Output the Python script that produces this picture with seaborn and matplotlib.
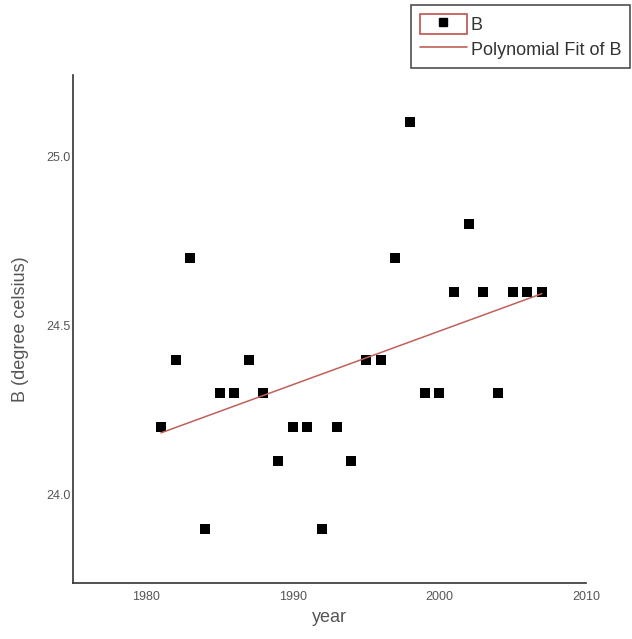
import matplotlib
matplotlib.use("Agg")
import matplotlib.pyplot as plt
import seaborn as sns
import pandas as pd
from matplotlib.patches import Rectangle
from matplotlib.lines import Line2D

years = [1981, 1982, 1983, 1984, 1985, 1986, 1987, 1988, 1989, 1990,
         1991, 1992, 1993, 1994, 1995, 1996, 1997, 1998, 1999, 2000,
         2001, 2002, 2003, 2004, 2005, 2006, 2007]
temps = [24.2, 24.4, 24.7, 23.9, 24.3, 24.3, 24.4, 24.3, 24.1, 24.2,
         24.2, 23.9, 24.2, 24.1, 24.4, 24.4, 24.7, 25.1, 24.3, 24.3,
         24.6, 24.8, 24.6, 24.3, 24.6, 24.6, 24.6]
x_ticks = [1980, 1990, 2000, 2010]
y_ticks = [24.0, 24.5, 25.0]

df = pd.DataFrame({"year": years, "B": temps})

sns.set_style("white")
plt.rcParams["font.family"] = ["Liberation Sans", "DejaVu Sans"]

fit_color = "#c0605a"
text_color = "#555555"

fig = plt.figure(figsize=(6.32, 6.39), dpi=100)
ax = fig.add_axes([0.1155, 0.0876, 0.8115, 0.795])

sns.regplot(data=df, x="year", y="B", ci=None, ax=ax, marker="s",
            scatter_kws={"s": 60, "color": "black", "linewidths": 0, "alpha": 1},
            line_kws={"color": fit_color, "linewidth": 1.1})

ax.set_xlim(1975, 2010)
ax.set_ylim(23.74, 25.24)
ax.set_xticks(x_ticks)
ax.set_yticks(y_ticks)
ax.set_xticklabels([str(t) for t in x_ticks])
ax.set_yticklabels([f"{t:.1f}" for t in y_ticks])
ax.tick_params(length=0, labelsize=9, colors=text_color)
ax.tick_params(axis="y", pad=2)
ax.tick_params(axis="x", pad=6)
ax.set_xlabel("year", fontsize=13, color=text_color)
ax.set_ylabel("B (degree celsius)", fontsize=13, color=text_color, labelpad=12)
sns.despine(ax=ax)
for s in ["left", "bottom"]:
    ax.spines[s].set_color("#333333")
    ax.spines[s].set_linewidth(1.2)

box = Rectangle((0, 0), 1, 1, facecolor="white", edgecolor=fit_color, linewidth=1.3)
dot = Line2D([], [], marker="s", color="black", linestyle="none", markersize=6)
line = Line2D([], [], color=fit_color, linewidth=1.2)
leg = fig.legend([(box, dot), line], ["B", "Polynomial Fit of B"],
                 loc="upper right", bbox_to_anchor=(0.997, 0.992),
                 borderaxespad=0, frameon=True, fancybox=False,
                 edgecolor="#222222", fontsize=13, handlelength=2.6,
                 handleheight=1.3, borderpad=0.5, labelspacing=0.3,
                 handletextpad=0.2)
leg.get_frame().set_linewidth(1.2)
for t in leg.get_texts():
    t.set_color("#333333")

fig.savefig("out.png", dpi=100)
